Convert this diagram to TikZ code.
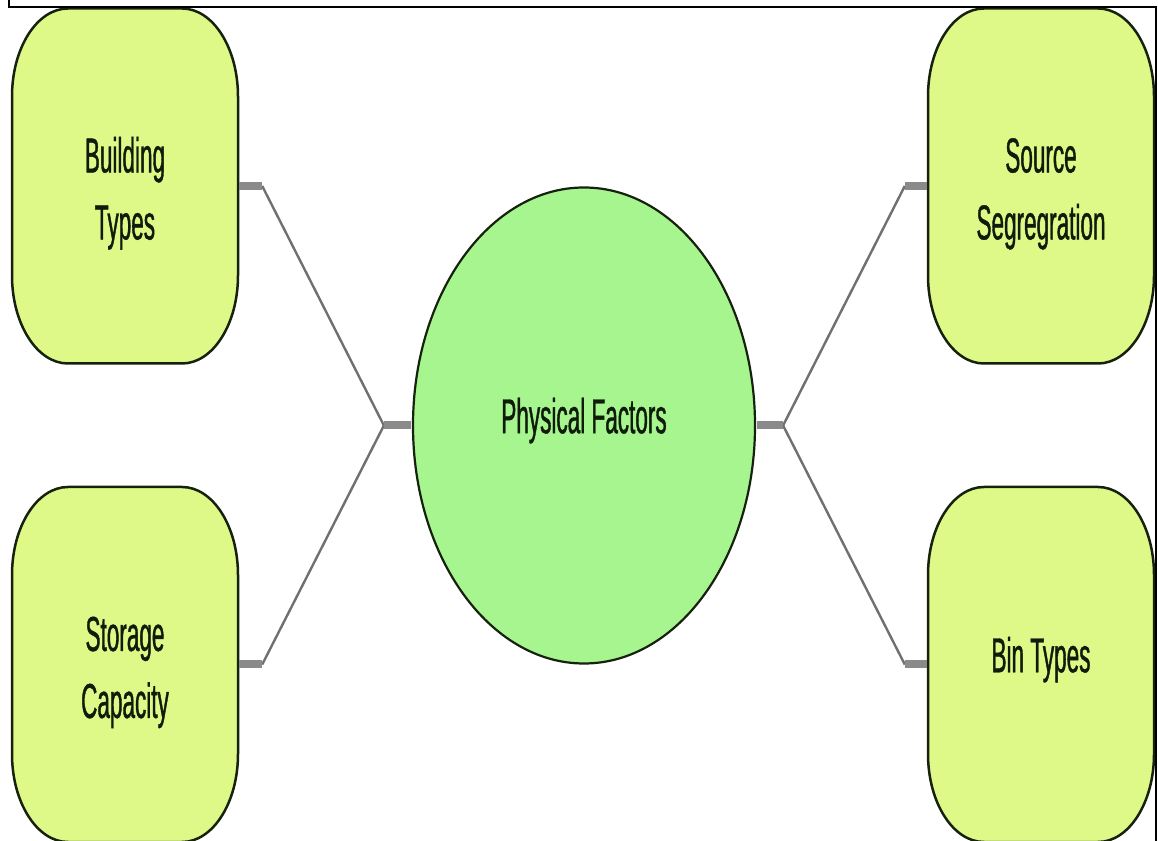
\documentclass[tikz,border=0pt]{standalone}
\usepackage{fontspec}
\setmainfont{Liberation Sans}
\newfontfamily\narrowfont[FakeStretch=0.46,FakeBold=0.8]{Liberation Sans}
\usetikzlibrary{shapes.geometric,calc}

\definecolor{boxfill}{RGB}{222,249,136}
\definecolor{hubfill}{RGB}{166,245,143}
\definecolor{edgeline}{RGB}{22,34,14}
\definecolor{labelink}{RGB}{16,28,10}
\definecolor{stubgray}{RGB}{138,138,138}
\definecolor{linkgray}{RGB}{112,112,112}

% struts that move a label down (tall) or up (deep) inside its box
\newcommand\tallstrut{\rule{0pt}{50pt}}
\newcommand\deepstrut{\rule[-20pt]{0pt}{20pt}}

% soft box: a rectangle with elliptical corners around a centre point
\newcommand\softbox[1]{%
  \draw[boxline]
    ($(#1)+(-113,89.5)$)
    arc[start angle=180, end angle=90, x radius=56, y radius=88]
    -- ($(#1)+(57,177.5)$)
    arc[start angle=90, end angle=0, x radius=56, y radius=88]
    -- ($(#1)+(113,-89.5)$)
    arc[start angle=0, end angle=-90, x radius=56, y radius=88]
    -- ($(#1)+(-57,-177.5)$)
    arc[start angle=270, end angle=180, x radius=56, y radius=88]
    -- cycle;}

\tikzset{
  factor/.style={rectangle, minimum width=226pt, minimum height=355pt,
    inner sep=0pt, align=center, text=labelink,
    font=\narrowfont\fontsize{49}{67}\selectfont},
  boxline/.style={fill=boxfill, draw=edgeline, line width=2.5pt},
  hub/.style={ellipse, minimum width=342pt, minimum height=476pt, inner sep=0pt,
    fill=hubfill, draw=edgeline, line width=2.2pt, text=labelink,
    font=\narrowfont\fontsize{49}{67}\selectfont},
  stub/.style={draw=stubgray, line width=8pt},
  link/.style={draw=linkgray, line width=2.4pt},
  frame/.style={draw=black, line width=2pt}
}

\begin{document}
\begin{tikzpicture}[x=1pt, y=1pt]
  \useasboundingbox (0,0) rectangle (1158,840);
  \clip (0,0) rectangle (1158,840);
  \fill[white] (0,0) rectangle (1158,840);

  % box centres
  \coordinate (cbt) at (125,654);
  \coordinate (csc) at (125,175.5);
  \coordinate (css) at (1041,654);
  \coordinate (cbn) at (1041,175.5);

  \softbox{cbt}
  \softbox{csc}
  \softbox{css}
  \softbox{cbn}

  % central topic
  \node[hub] (pf) at (584,414.5) {\deepstrut Physical Factors};

  % four factor labels
  \node[factor] (bt) at (cbt) {\tallstrut Building\\Types};
  \node[factor] (sc) at (csc) {\tallstrut Storage\\Capacity};
  \node[factor] (ss) at (css) {\tallstrut Source\\Segregration};
  \node[factor] (bn) at (cbn) {\deepstrut Bin Types};

  % junction points beside the hub and beside the boxes
  \coordinate (jl) at ($(pf.west)+(-28,0)$);
  \coordinate (jr) at ($(pf.east)+(27,0)$);
  \coordinate (bt1) at ($(bt.east)+(24,0)$);
  \coordinate (sc1) at ($(sc.east)+(24,0)$);
  \coordinate (ss1) at ($(ss.west)+(-23,0)$);
  \coordinate (bn1) at ($(bn.west)+(-23,0)$);

  % connectors
  \draw[link] (bt1) -- (jl);
  \draw[link] (sc1) -- (jl);
  \draw[link] (ss1) -- (jr);
  \draw[link] (bn1) -- (jr);
  \draw[stub] ([xshift=1.2pt]bt.east) -- (bt1);
  \draw[stub] ([xshift=1.2pt]sc.east) -- (sc1);
  \draw[stub] ([xshift=-1.2pt]ss.west) -- (ss1);
  \draw[stub] ([xshift=-1.2pt]bn.west) -- (bn1);
  \draw[stub] (jl) -- ([xshift=-1.1pt]pf.west);
  \draw[stub] (jr) -- ([xshift=1.1pt]pf.east);

  % outer frame
  \draw[frame] (9,850) -- (9,833) -- (1156,833) -- (1156,-10);
\end{tikzpicture}
\end{document}
